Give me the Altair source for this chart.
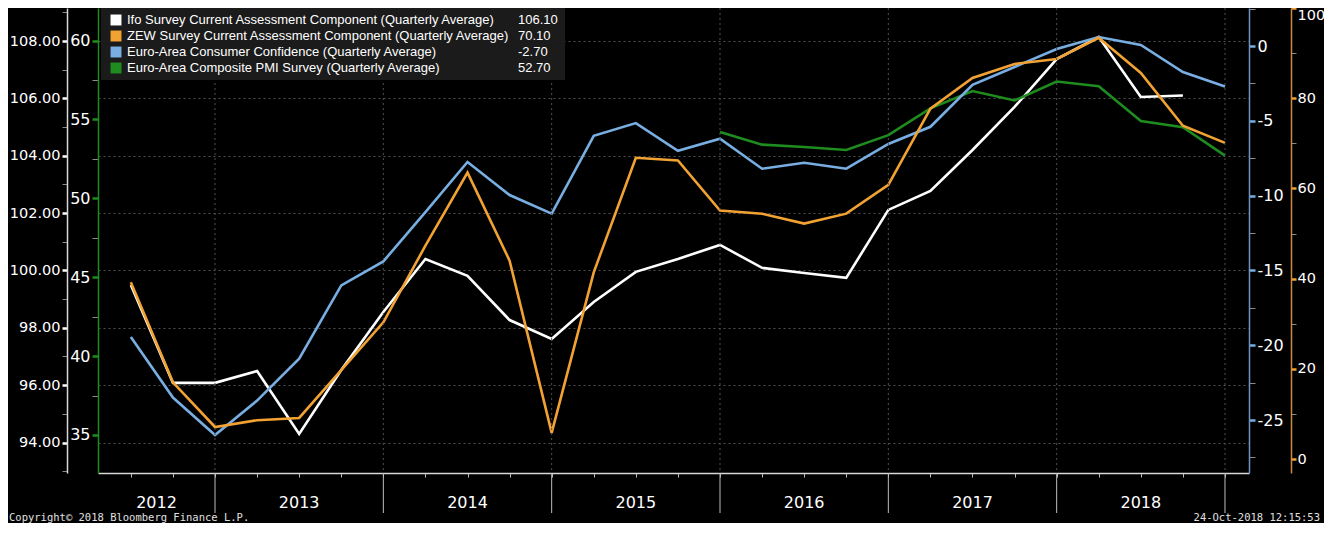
import altair as alt
import pandas as pd

# ---------------- data ----------------
quarters = ["2012Q2", "2012Q3", "2012Q4",
            "2013Q1", "2013Q2", "2013Q3", "2013Q4",
            "2014Q1", "2014Q2", "2014Q3", "2014Q4",
            "2015Q1", "2015Q2", "2015Q3", "2015Q4",
            "2016Q1", "2016Q2", "2016Q3", "2016Q4",
            "2017Q1", "2017Q2", "2017Q3", "2017Q4",
            "2018Q1", "2018Q2", "2018Q3", "2018Q4"]

ifo = [99.49, 96.08, 96.08, 96.49, 94.30, 96.53, 98.55, 100.40, 99.81, 98.27,
       97.61, 98.90, 99.95, 100.40, 100.89, 100.09, 99.91, 99.74, 102.11,
       102.77, 104.20, 105.70, 107.37, 108.14, 106.05, 106.10, None]
zew = [39.2, 17.0, 7.1, 8.6, 9.1, 19.7, 30.3, 47.3, 63.5, 44.0, 5.8, 41.4,
       66.8, 66.2, 55.1, 54.4, 52.2, 54.4, 60.8, 77.7, 84.5, 87.6, 88.7, 93.4,
       85.6, 73.9, 70.1]
cc = [-19.45, -23.5, -26.0, -23.7, -20.9, -16.0, -14.4, -11.1, -7.75, -9.96,
      -11.2, -6.0, -5.15, -7.0, -6.2, -8.2, -7.8, -8.2, -6.55, -5.4, -2.6,
      -1.4, -0.2, 0.6, 0.07, -1.74, -2.7]
pmi = [None] * 14 + [54.2, 53.4, 53.25, 53.06, 54.0, 55.7, 56.8, 56.2, 57.4,
                     57.1, 54.9, 54.5, 52.7]

years = [2012, 2013, 2014, 2015, 2016, 2017, 2018]

legend_labels = ["Ifo Survey Current Assessment Component (Quarterly Average)",
                 "ZEW Survey Current Assessment Component (Quarterly Average)",
                 "Euro-Area Consumer Confidence (Quarterly Average)",
                 "Euro-Area Composite PMI Survey (Quarterly Average)"]
legend_values = ["106.10", "70.10", "-2.70", "52.70"]

ifo_ticks = [94, 96, 98, 100, 102, 104, 106, 108]
pmi_ticks = [35, 40, 45, 50, 55, 60]
cc_ticks = [-25, -20, -15, -10, -5, 0]
zew_ticks = [0, 20, 40, 60, 80, 100]

copyright_text = "Copyright\u00a9 2018 Bloomberg Finance L.P."
stamp_text = "24-Oct-2018 12:15:53"

# ---------------- style ----------------
C_IFO = "#FFFFFF"
C_ZEW = "#F2A233"
C_CC = "#78AEE2"
C_PMI = "#1E8C1E"
colors = [C_IFO, C_ZEW, C_CC, C_PMI]
FONT = "DejaVu Sans"

W, H = 1151, 465
XMIN, XMAX = 2012.3049, 2019.1426


def qx(q):
    return int(q[:4]) + int(q[5]) / 4.0


xs = [qx(q) for q in quarters]

xaxis = alt.Axis(values=xs, labels=False, tickSize=4, tickColor="#bbbbbb",
                 domainColor="#d8d8d8", domainWidth=1.5, grid=False, title=None)


def X():
    return alt.X("x:Q", scale=alt.Scale(domain=[XMIN, XMAX], nice=False, zero=False),
                 axis=xaxis, title=None)


def series_df(vals):
    return pd.DataFrame([{"x": x, "v": v} for x, v in zip(xs, vals) if v is not None])


def minor_vals(major):
    step = major[1] - major[0]
    out = []
    for m in major:
        out.append(m - step / 2)
        out.append(m)
    out.append(major[-1] + step / 2)
    return out


def yaxis(orient, offset, major, color, domain_color, grid=False, fmt=None,
          font_size=16, tick_size=6, pad=2):
    step = major[1] - major[0]
    test = f"abs(datum.value / {step} - round(datum.value / {step})) < 0.001"
    if fmt:
        lab = f"({test}) ? format(datum.value, '{fmt}') : ''"
    else:
        lab = f"({test}) ? ('' + datum.value) : ''"
    kw = dict(orient=orient, offset=offset, values=minor_vals(major), labelExpr=lab,
              tickColor={"condition": {"test": test, "value": color}, "value": "#8a8a8a"},
              tickSize=tick_size,
              tickWidth={"condition": {"test": test, "value": 2.5}, "value": 1},
              domainColor=domain_color, domainWidth=1.5,
              labelColor="white", labelFont=FONT, labelFontSize=font_size, labelPadding=pad,
              labelFlush=1, title=None, grid=grid)
    if grid:
        kw.update(gridColor="#505050", gridDash=[2, 3], gridWidth=1,
                  gridOpacity={"condition": {"test": test, "value": 1}, "value": 0})
    return alt.Axis(**kw)


def line(vals, color, domain, axis):
    return alt.Chart(series_df(vals)).mark_line(color=color, strokeWidth=2.6).encode(
        x=X(),
        y=alt.Y("v:Q", scale=alt.Scale(domain=domain, nice=False, zero=False), axis=axis, title=None),
    )


ifo_layer = line(ifo, C_IFO, [92.937, 109.151],
                 yaxis("left", 31, ifo_ticks, "#ffffff", "#d8d8d8", grid=True, fmt=".2f",
                       font_size=14.5, tick_size=5))
pmi_layer = line(pmi, C_PMI, [32.59, 62.06],
                 yaxis("left", 0, pmi_ticks, C_PMI, C_PMI))
cc_layer = line(cc, C_CC, [-28.54, 2.54],
                yaxis("right", 0, cc_ticks, C_CC, "#6F92C4"))
zew_layer = line(zew, C_ZEW, [-3.10, 100.0],
                 yaxis("right", 42, zew_ticks, C_ZEW, "#C98C3E",
                       font_size=14.5, tick_size=5, pad=1))

# year boundaries / labels
bounds_df = pd.DataFrame({"x": [y + 1 for y in years]})
labels_df = pd.DataFrame({
    "x": [max(y + 0.5, (XMIN + y + 1) / 2.0) for y in years],
    "label": [str(y) for y in years],
})

vgrid = alt.Chart(bounds_df).mark_rule(color="#505050", strokeDash=[2, 3], strokeWidth=1).encode(x=X())
seps = alt.Chart(bounds_df).mark_rule(color="#bdbdbd", strokeWidth=1).encode(
    x=X(), y=alt.value(H), y2=alt.value(H + 40))
year_text = alt.Chart(labels_df).mark_text(color="white", font=FONT, fontSize=16,
                                           baseline="middle", align="center").encode(
    x=X(), y=alt.value(H + 30), text="label:N")

# legend (positions in plot pixels)
leg_df = pd.DataFrame({"row": list(range(4)), "label": legend_labels,
                       "value": legend_values, "color": colors})
rowY = alt.Y("row:Q", scale=alt.Scale(domain=[0, 3], range=[12, 60]), axis=None)

leg_bg = alt.Chart(pd.DataFrame({"a": [0]})).mark_rect(color="#1b1b1b").encode(
    x=alt.value(3), x2=alt.value(467), y=alt.value(-4), y2=alt.value(72))
leg_sw = alt.Chart(leg_df).mark_square(size=120, opacity=1).encode(
    x=alt.value(18), y=rowY, color=alt.Color("color:N", scale=None, legend=None))
leg_txt = alt.Chart(leg_df).mark_text(align="left", baseline="middle", font="Liberation Sans",
                                      fontSize=13, color="white").encode(
    x=alt.value(29), y=rowY, text="label:N")
leg_val = alt.Chart(leg_df).mark_text(align="left", baseline="middle", font="Liberation Sans",
                                      fontSize=13, color="white").encode(
    x=alt.value(420), y=rowY, text="value:N")

# footer
foot_df = pd.DataFrame({"t": [copyright_text]})
stamp_df = pd.DataFrame({"t": [stamp_text]})
foot = alt.Chart(foot_df).mark_text(align="left", baseline="bottom", font="DejaVu Sans Mono",
                                    fontSize=10.5, color="#e0e0e0").encode(
    x=alt.value(-89), y=alt.value(H + 50), text="t:N")
stamp = alt.Chart(stamp_df).mark_text(align="right", baseline="bottom", font="DejaVu Sans Mono",
                                      fontSize=10.5, color="#e0e0e0").encode(
    x=alt.value(W + 71), y=alt.value(H + 50), text="t:N")

chart = alt.layer(
    ifo_layer, pmi_layer, cc_layer, zew_layer,
    vgrid, seps, year_text,
    leg_bg, leg_sw, leg_txt, leg_val,
    foot, stamp,
).resolve_scale(y="independent").properties(
    width=W, height=H, background="black",
    padding={"left": 90, "top": 0, "right": 75, "bottom": 50},
    autosize=alt.AutoSizeParams(type="none"),
).configure_view(stroke=None)

chart.save("out.html", embed_options={"renderer": "svg", "actions": False})
